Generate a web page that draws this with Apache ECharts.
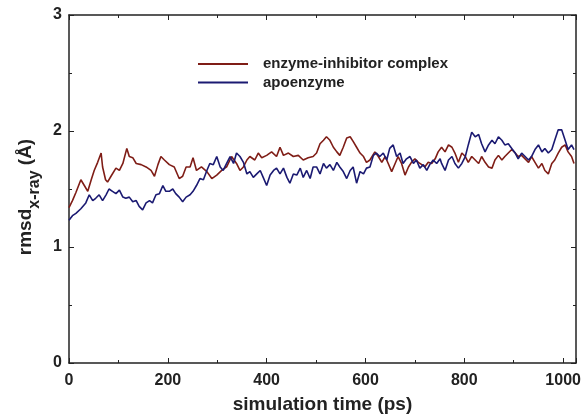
<!DOCTYPE html>
<html>
<head>
<meta charset="utf-8">
<script src="https://cdn.jsdelivr.net/npm/echarts@6/dist/echarts.min.js"></script>
<style>html,body{margin:0;padding:0;background:#fff;}#c{width:581px;height:415px;}</style>
</head>
<body>
<div id="c"></div>
<script>
const seriesNames = ['enzyme-inhibitor complex', 'apoenzyme'];
const xTickLabels = [0, 200, 400, 600, 800, 1000];
const yTickLabels = [0, 1, 2, 3];

const complexTime = [0,7,14,24,31,38,45,51,58,65,68,74,78,85,95,102,109,117,122,129,136,146,156,166,173,180,186,193,203,213,223,230,237,
  245,251,258,268,279,289,299,309,319,329,339,346,353,360,366,376,383,390,400,410,420,427,434,444,454,464,474,484,494,
  501,508,515,521,528,535,542,548,555,562,569,575,582,589,596,602,609,619,626,633,640,646,653,660,666,673,680,687,693,700,707,714,720,727,734,741,747,
  754,761,768,775,781,788,795,802,808,815,822,829,835,842,849,856,862,869,876,882,889,896,903,909,916,923,930,936,943,950,957,963,970,977,983,990,997,1004,1010,1017,1022];
const complexRmsd = [1.34,1.40,1.47,1.58,1.53,1.48,1.58,1.66,1.73,1.81,1.69,1.58,1.56,1.61,1.68,1.66,1.72,1.85,1.78,1.77,1.72,1.71,1.69,1.66,1.61,1.71,1.78,1.75,1.71,1.69,1.59,1.61,1.69,
  1.69,1.77,1.66,1.69,1.65,1.59,1.62,1.66,1.69,1.78,1.72,1.66,1.69,1.75,1.78,1.75,1.81,1.77,1.79,1.82,1.78,1.86,1.79,1.81,1.78,1.79,1.75,1.77,1.78,
  1.81,1.89,1.92,1.95,1.92,1.86,1.82,1.79,1.86,1.94,1.95,1.91,1.86,1.81,1.78,1.73,1.75,1.82,1.78,1.73,1.78,1.72,1.65,1.72,1.78,1.72,1.62,1.69,1.73,1.76,1.73,1.71,1.69,1.73,1.72,1.76,1.82,
  1.86,1.82,1.88,1.86,1.81,1.73,1.81,1.78,1.73,1.78,1.75,1.72,1.78,1.73,1.69,1.68,1.75,1.79,1.75,1.78,1.81,1.84,1.81,1.78,1.79,1.76,1.73,1.78,1.73,1.68,1.72,1.66,1.63,1.72,1.75,1.81,1.86,1.88,1.82,1.78,1.72];

const apoTime = [0,7,14,24,34,41,48,54,61,68,75,81,88,95,102,109,115,122,129,136,142,149,156,163,169,176,183,190,196,203,210,216,223,230,237,
  245,251,258,265,272,279,285,292,299,306,312,319,326,333,339,346,353,360,366,373,380,387,393,400,407,414,420,427,434,441,447,454,461,468,474,481,488,494,
  501,508,515,521,528,535,542,548,555,562,569,575,582,589,596,602,609,616,622,629,636,643,649,656,663,670,676,683,690,697,703,710,717,724,730,737,744,751,
  754,761,768,775,781,788,795,802,808,815,822,829,835,842,849,856,862,869,876,882,889,896,903,909,916,923,930,936,943,950,957,963,970,977,983,990,997,1004,1010,1017,1022];
const apoRmsd = [1.23,1.27,1.29,1.33,1.38,1.45,1.40,1.42,1.45,1.40,1.45,1.50,1.48,1.46,1.49,1.43,1.42,1.43,1.39,1.40,1.35,1.32,1.38,1.40,1.38,1.45,1.46,1.53,1.48,1.48,1.50,1.46,1.43,1.39,1.43,
  1.45,1.48,1.53,1.59,1.58,1.66,1.72,1.71,1.78,1.69,1.66,1.72,1.78,1.72,1.81,1.78,1.73,1.63,1.65,1.60,1.63,1.66,1.60,1.53,1.62,1.66,1.68,1.63,1.68,1.60,1.55,1.63,1.62,1.68,1.60,1.66,1.59,1.69,
  1.69,1.63,1.72,1.68,1.71,1.66,1.73,1.69,1.65,1.59,1.66,1.69,1.55,1.65,1.63,1.68,1.69,1.79,1.81,1.78,1.81,1.75,1.85,1.88,1.78,1.81,1.72,1.76,1.78,1.72,1.75,1.68,1.71,1.66,1.71,1.75,1.72,1.76,
  1.72,1.66,1.75,1.78,1.72,1.68,1.72,1.78,1.88,1.99,1.95,1.97,1.89,1.82,1.88,1.92,1.89,1.95,1.92,1.88,1.89,1.85,1.81,1.76,1.81,1.78,1.75,1.78,1.84,1.88,1.82,1.85,1.81,1.84,1.92,2.01,2.01,1.92,1.84,1.88,1.84];

const FONT = 'Liberation Sans, Arial, sans-serif';
const INK = '#222';
const zip = (xs, ys) => xs.map((x, i) => [x, ys[i]]);

const axisBase = {
  type: 'value',
  axisLine: { show: true, onZero: false, lineStyle: { color: INK, width: 1.5 } },
  axisTick: { show: true, inside: true, length: 5, lineStyle: { color: INK, width: 1 } },
  minorTick: { show: true, splitNumber: 2, length: 3, lineStyle: { color: INK, width: 1 } },
  splitLine: { show: false },
  minorSplitLine: { show: false }
};

const chart = echarts.init(document.getElementById('c'), null, { renderer: 'canvas' });
chart.setOption({
  animation: false,
  backgroundColor: '#fff',
  grid: { left: 69, top: 15, right: 5, bottom: 52, containLabel: false, outerBoundsMode: 'none' },
  legend: {
    orient: 'vertical', left: 193, top: 50,
    icon: 'rect', itemWidth: 50, itemHeight: 2, itemGap: 0.4,
    textStyle: { fontFamily: FONT, fontSize: 15, fontWeight: 'bold', color: INK, lineHeight: 18, padding: [0, 0, 0, 10] },
    data: seriesNames
  },
  xAxis: [
    Object.assign({}, axisBase, {
      position: 'bottom', min: 0, max: 1026, interval: 200,
      name: 'simulation time (ps)', nameLocation: 'middle', nameGap: 32,
      nameTextStyle: { fontFamily: FONT, fontSize: 19, fontWeight: 'bold', color: INK },
      axisLabel: {
        margin: 10, fontFamily: FONT, fontSize: 16, fontWeight: 'bold', color: INK,
        formatter: v => (xTickLabels.indexOf(v) >= 0 ? String(v) : '')
      }
    }),
    Object.assign({}, axisBase, {
      position: 'top', min: 0, max: 1026, interval: 200, axisLabel: { show: false }
    })
  ],
  yAxis: [
    Object.assign({}, axisBase, {
      position: 'left', min: 0, max: 3, interval: 1,
      name: '{a|rmsd}{s|x-ray}{a| (Å)}', nameLocation: 'middle', nameGap: 28, nameRotate: 90,
      nameTextStyle: {
        padding: [0, 16, 0, 0],
        rich: {
          a: { fontFamily: FONT, fontSize: 19, fontWeight: 'bold', color: INK, lineHeight: 22, verticalAlign: 'top' },
          s: { fontFamily: FONT, fontSize: 16, fontWeight: 'bold', color: INK, lineHeight: 16, padding: [10, 0, 0, 0], verticalAlign: 'top' }
        }
      },
      axisLabel: {
        margin: 7, fontFamily: FONT, fontSize: 16, fontWeight: 'bold', color: INK,
        formatter: v => (yTickLabels.indexOf(v) >= 0 ? String(v) : '')
      }
    }),
    Object.assign({}, axisBase, {
      position: 'right', min: 0, max: 3, interval: 1, axisLabel: { show: false }
    })
  ],
  series: [
    {
      name: seriesNames[0], type: 'line', xAxisIndex: 0, yAxisIndex: 0,
      data: zip(complexTime, complexRmsd), showSymbol: false, symbol: 'none',
      itemStyle: { color: '#7f1d16' }, lineStyle: { color: '#7f1d16', width: 1.6 }
    },
    {
      name: seriesNames[1], type: 'line', xAxisIndex: 0, yAxisIndex: 0,
      data: zip(apoTime, apoRmsd), showSymbol: false, symbol: 'none',
      itemStyle: { color: '#1b1a72' }, lineStyle: { color: '#1b1a72', width: 1.6 }
    }
  ]
});
</script>
</body>
</html>
